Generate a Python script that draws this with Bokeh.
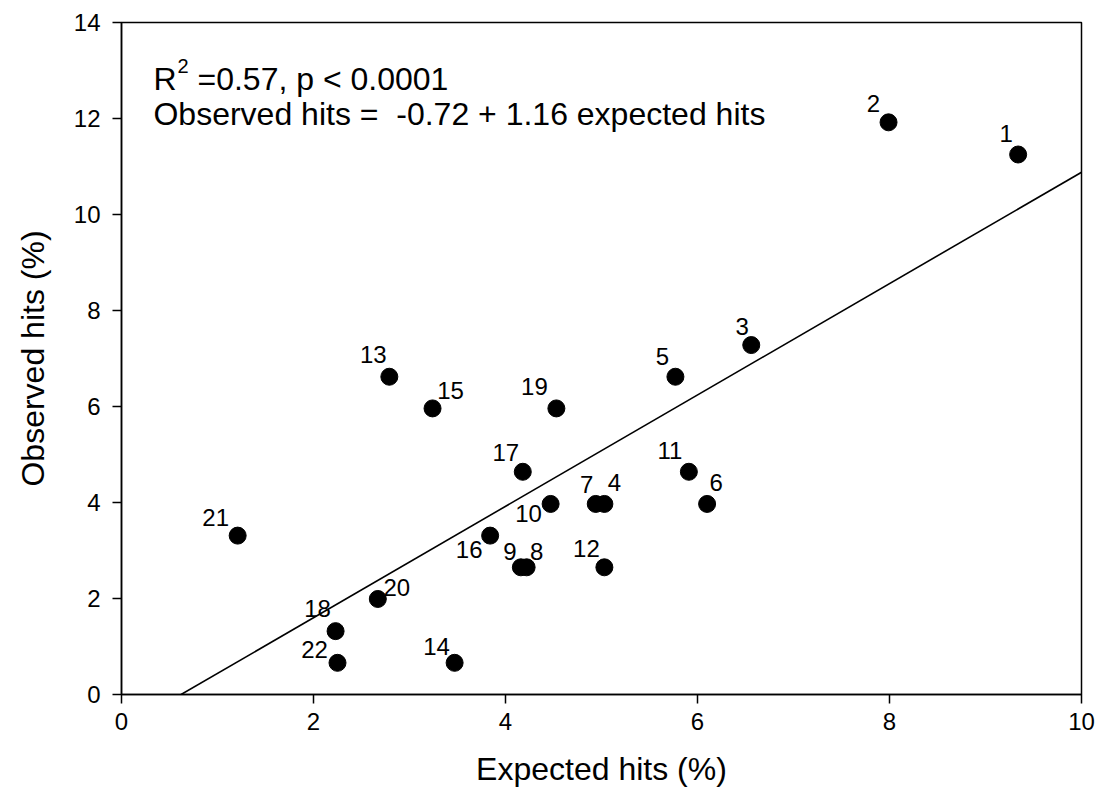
from bokeh.plotting import figure
from bokeh.models import Range1d, Slope, ColumnDataSource
from bokeh.embed import file_html
from bokeh.resources import INLINE
from bokeh.core.properties import value

# ---- data ----
ids = [str(i) for i in range(1, 23)]
expected = [9.34, 7.99, 6.56, 5.03, 5.77, 6.10, 4.94, 4.22, 4.16, 4.47, 5.91,
            5.03, 2.79, 3.47, 3.24, 3.84, 4.18, 2.23, 4.53, 2.67, 1.21, 2.25]
observed = [11.25, 11.92, 7.28, 3.97, 6.62, 3.97, 3.97, 2.65, 2.65, 3.97, 4.64,
            2.65, 6.62, 0.66, 5.96, 3.31, 4.64, 1.32, 5.96, 1.99, 3.31, 0.66]
intercept = -0.72
slope = 1.16
r_squared = "0.57"
p_text = "p < 0.0001"
x_ticks = [0, 2, 4, 6, 8, 10]
y_ticks = [0, 2, 4, 6, 8, 10, 12, 14]

# label placement offsets (screen px, y down) - layout only
label_dx = [-12, -15, -9, 10, -13, 9, -9, 10, -11, -22, -19,
            -18, -16, -18, 18, -21, -17, -18, -22, 19, -22, -23]
label_dy = [-21, -19, -19, -21, -20, -21, -19, -16, -16, 10, -21,
            -19, -22, -16, -18, 14, -19, -23, -22, -11, -18, -13]

FONT = "Liberation Sans"
NBSP = "\u00a0"

p = figure(width=1098, height=798, x_range=Range1d(0, 10), y_range=Range1d(0, 14),
           output_backend="svg", toolbar_location=None,
           min_border_left=121, min_border_right=17, min_border_top=22,
           min_border_bottom=104)
p.grid.visible = False
p.background_fill_color = "white"
p.border_fill_color = "white"
p.outline_line_color = "black"
p.outline_line_width = 1.5

p.xaxis.ticker = x_ticks
p.yaxis.ticker = y_ticks
p.axis.minor_tick_line_color = None
p.axis.major_tick_in = 0
p.axis.major_tick_out = 9
p.axis.major_tick_line_width = 1.5
p.axis.axis_line_width = 1.5
p.axis.major_label_text_font = FONT
p.axis.major_label_text_font_size = "24px"
p.axis.major_label_text_color = "black"
p.axis.axis_label_text_font = FONT
p.axis.axis_label_text_font_size = "32px"
p.axis.axis_label_text_font_style = "normal"
p.axis.axis_label_text_color = "black"
p.xaxis.axis_label = "Expected hits (%)"
p.yaxis.axis_label = "Observed hits (%)"
p.xaxis.major_label_standoff = 9
p.yaxis.major_label_standoff = 12
p.xaxis.axis_label_standoff = 18
p.yaxis.axis_label_standoff = 20

# regression line
p.add_layout(Slope(gradient=slope, y_intercept=intercept, line_color="black", line_width=1.6))

src = ColumnDataSource(dict(x=expected, y=observed, t=ids, dx=label_dx, dy=label_dy))
p.scatter("x", "y", source=src, size=17, color="black")
p.text("x", "y", text="t", x_offset="dx", y_offset="dy", source=src,
       text_font=value(FONT), text_font_size="24px", text_align="center",
       text_baseline="middle", text_color="black")

# annotation text
ann_x = [0.333]
line1_y = [12.83]
line2_y = [12.09]
p.text(x=ann_x, y=line1_y, text=["R"], text_font=value(FONT), text_font_size="32px",
       text_baseline="alphabetic", text_align="left", text_color="black")
p.text(x=ann_x, y=line1_y, text=["2"], x_offset=24, y_offset=-13, text_font=value(FONT),
       text_font_size="20px", text_baseline="alphabetic", text_align="left", text_color="black")
p.text(x=ann_x, y=line1_y, text=["=" + r_squared + ", " + p_text], x_offset=44,
       text_font=value(FONT), text_font_size="32px", text_baseline="alphabetic",
       text_align="left", text_color="black")
p.text(x=ann_x, y=line2_y,
       text=["Observed hits =" + NBSP + NBSP + "%.2f + %.2f expected hits" % (intercept, slope)],
       text_font=value(FONT), text_font_size="32px", text_baseline="alphabetic",
       text_align="left", text_color="black")

open("out.html", "w").write(file_html(p, INLINE))
